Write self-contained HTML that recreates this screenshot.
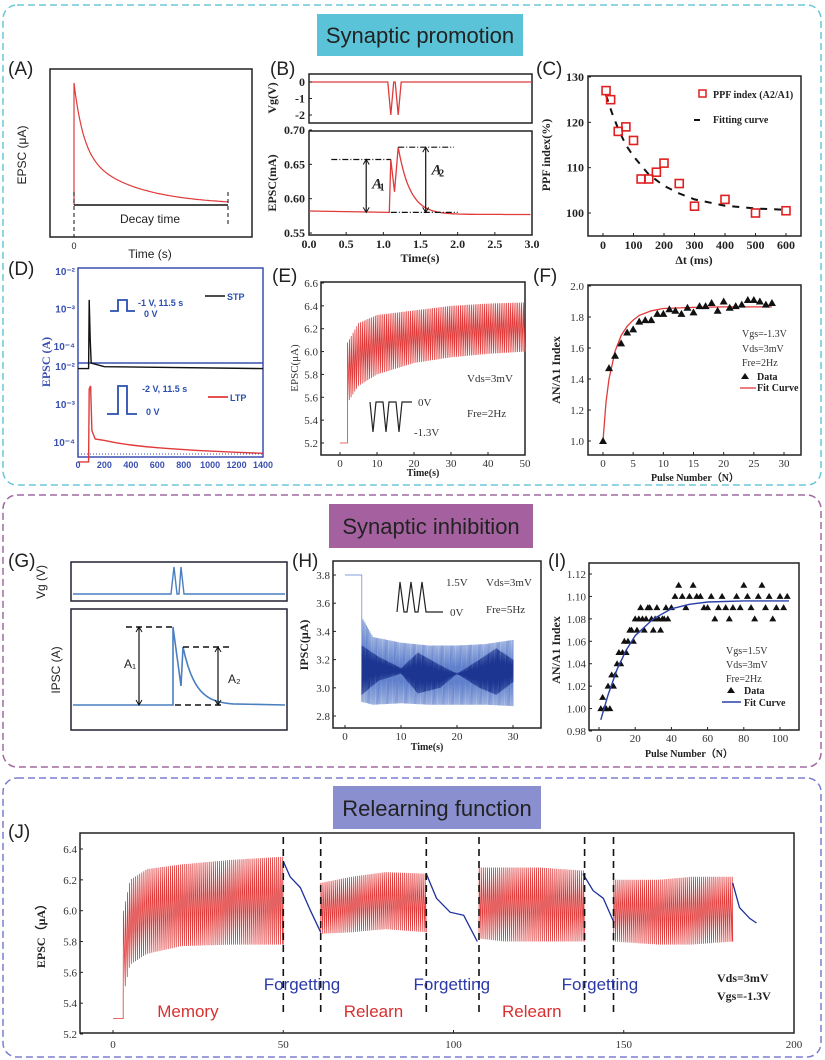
<!DOCTYPE html>
<html><head><meta charset="utf-8"><style>
html,body{margin:0;padding:0;background:#fff;}
svg{display:block;font-family:"Liberation Sans",sans-serif;}
.tk{font-family:"Liberation Serif",serif;font-size:11px;fill:#333;}
.tkb{font-family:"Liberation Serif",serif;font-size:12px;font-weight:bold;fill:#222;}
.sn{font-family:"Liberation Sans",sans-serif;font-size:12px;fill:#222;}
.pl{font-size:19px;fill:#222;}
.ttl{font-size:22px;fill:#222;}
</style></head><body>
<svg id="fig" width="825" height="1060" viewBox="0 0 825 1060">
<rect x="3" y="5" width="818" height="480" rx="14" fill="none" stroke="#6cc7dc" stroke-width="1.5" stroke-dasharray="7,4"/>
<rect x="3" y="495" width="818" height="272" rx="14" fill="none" stroke="#a06aa0" stroke-width="1.5" stroke-dasharray="7,4"/>
<rect x="3" y="778" width="818" height="279" rx="14" fill="none" stroke="#7b7fcf" stroke-width="1.5" stroke-dasharray="7,4"/>
<rect x="317" y="14" width="206" height="42" fill="#5bc3d8"/>
<text x="420" y="43" text-anchor="middle" class="ttl">Synaptic promotion</text>
<rect x="329" y="504" width="204" height="44" fill="#a5619f"/>
<text x="431" y="534" text-anchor="middle" class="ttl">Synaptic inhibition</text>
<rect x="333" y="786" width="208" height="43" fill="#8a8fd0"/>
<text x="437" y="816" text-anchor="middle" class="ttl">Relearning function</text>
<text x="8" y="75" class="pl">(A)</text>
<text x="270" y="75" class="pl">(B)</text>
<text x="536" y="75" class="pl">(C)</text>
<text x="8" y="275" class="pl">(D)</text>
<text x="272" y="282" class="pl">(E)</text>
<text x="533" y="282" class="pl">(F)</text>
<text x="8" y="567" class="pl">(G)</text>
<text x="292" y="567" class="pl">(H)</text>
<text x="548" y="567" class="pl">(I)</text>
<text x="8" y="838" class="pl">(J)</text>
</svg>
<script>
// ---- data ----
const cDt=[10,25,50,75,100,125,150,175,200,250,300,400,500,600];
const cPPF=[127,125,118,119,116,107.5,107.5,109,111,106.5,101.5,103,100,100.5];
const cFitX=[10,30,50,75,100,150,200,250,300,400,500,600];
const cFitY=[126,122,118.5,115,112.5,108.5,106,104.3,103,101.6,101,100.7];
const fN=[0,1,2,3,4,5,6,7,8,9,10,11,12,13,14,15,16,17,18,19,20,21,22,23,24,25,26,27,28];
const fVal=[1.0,1.47,1.55,1.63,1.70,1.72,1.77,1.78,1.78,1.82,1.82,1.85,1.84,1.82,1.86,1.83,1.87,1.87,1.89,1.84,1.90,1.86,1.87,1.88,1.91,1.91,1.90,1.88,1.89];
const fFitX=[0,0.5,1,2,3,4,5,6,8,10,15,20,28];
const fFitY=[1.0,1.25,1.4,1.58,1.68,1.74,1.78,1.81,1.84,1.855,1.862,1.865,1.865];
const iN=[1,2,3,4,5,6,7,8,9,10,11,12,13,14,15,16,17,18,19,20,21,22,23,24,25,26,27,28,29,30,31,32,33,34,35,36,37,38,40,42,44,46,48,50,52,54,56,58,60,62,64,66,68,70,72,74,76,78,80,82,84,86,88,90,92,94,96,98,100,102,104];
const iVal=[1.00,1.01,1.00,1.00,1.02,1.00,1.03,1.02,1.03,1.04,1.05,1.04,1.05,1.06,1.05,1.06,1.07,1.07,1.06,1.08,1.07,1.08,1.09,1.08,1.07,1.08,1.09,1.09,1.08,1.07,1.08,1.09,1.08,1.07,1.08,1.08,1.09,1.08,1.09,1.10,1.11,1.10,1.09,1.10,1.11,1.10,1.10,1.09,1.09,1.10,1.08,1.09,1.10,1.09,1.08,1.09,1.10,1.09,1.11,1.10,1.09,1.08,1.10,1.11,1.09,1.10,1.08,1.09,1.10,1.09,1.10];
const iFitX=[1,5,10,15,20,30,40,50,60,80,105];
const iFitY=[0.99,1.012,1.035,1.052,1.065,1.08,1.089,1.093,1.095,1.096,1.096];
const eT=[2,5,10,20,30,40,50];
const eUp=[6.08,6.25,6.32,6.36,6.40,6.42,6.43];
const eLo=[5.55,5.70,5.80,5.90,5.95,5.98,6.00];
const hT=[3,5,10,15,20,25,30];
const hUp=[3.5,3.36,3.32,3.30,3.30,3.31,3.34];
const hLo=[2.90,2.88,2.89,2.88,2.88,2.88,2.87];
const hDT=[3,6,10,13,17,20,24,27,30];
const hDUp=[3.30,3.22,3.14,3.25,3.16,3.10,3.20,3.28,3.20];
const hDLo=[2.95,3.05,3.10,2.96,3.00,3.10,3.00,2.95,3.04];
const jMemT=[3,5,10,20,35,50];
const jMemUp=[6.0,6.20,6.27,6.30,6.33,6.35];
const jMemLo=[5.45,5.65,5.72,5.77,5.78,5.78];
const jR1T=[61,70,80,92]; const jR1Up=[6.18,6.22,6.25,6.24]; const jR1Lo=[5.85,5.86,5.88,5.86];
const jR2T=[107,115,125,138]; const jR2Up=[6.28,6.28,6.28,6.26]; const jR2Lo=[5.82,5.80,5.80,5.80];
const jR3T=[147,160,170,182]; const jR3Up=[6.20,6.20,6.22,6.22]; const jR3Lo=[5.80,5.78,5.78,5.80];
const jF1T=[50,52,55,58,61]; const jF1V=[6.32,6.22,6.15,6.00,5.86];
const jF2T=[92,95,99,103,107]; const jF2V=[6.24,6.08,5.99,5.97,5.80];
const jF3T=[138,141,144,147]; const jF3V=[6.24,6.13,6.08,5.93];
const jF4T=[182,184,187,189]; const jF4V=[6.18,6.02,5.95,5.92];
const jDash=[50,61,92,107.5,138.5,147];

// ---- helpers ----
const NS='http://www.w3.org/2000/svg';
const svg=document.getElementById('fig');
function mk(tag,attrs,name,parent){const el=document.createElementNS(NS,tag);for(const k in attrs)el.setAttribute(k,attrs[k]);


(parent||svg).appendChild(el);return el;}
function tx(x,y,s,name,cls,extra){const ex=Object.assign({},extra||{});const st={};['font-size','fill','font-family','font-style'].forEach(k=>{if(ex[k]!==undefined){st[k]=ex[k];delete ex[k];}});
const el=mk('text',Object.assign({x:x,y:y,class:cls||'tk'},ex),name);
for(const k in st){el.style.setProperty(k,k==='font-size'&&/^\d+$/.test(st[k])?st[k]+'px':st[k]);}
el.textContent=s;return el;}
function sc(d0,d1,r0,r1){return v=>r0+(v-d0)*(r1-r0)/(d1-d0);}
function interp(ts,vs,t){if(t<=ts[0])return vs[0];for(let i=1;i<ts.length;i++){if(t<=ts[i]){const f=(t-ts[i-1])/(ts[i]-ts[i-1]);return vs[i-1]+f*(vs[i]-vs[i-1]);}}return vs[vs.length-1];}
function box(x0,y0,x1,y1,name,col,sw){return mk('rect',{x:x0,y:y0,width:x1-x0,height:y1-y0,fill:'none',stroke:col||'#222',"stroke-width":sw||1.5},name);}
function line(pts,name,col,sw,dash){const d=pts.map((p,i)=>(i?'L':'M')+p[0].toFixed(1)+','+p[1].toFixed(1)).join('');const a={d:d,fill:'none',stroke:col,"stroke-width":sw||1};if(dash)a['stroke-dasharray']=dash;return mk('path',a,name);}
function xticks(vals,labels,X,yAx,ly,name,cls){vals.forEach((v,i)=>{mk('line',{x1:X(v),x2:X(v),y1:yAx,y2:yAx-3,stroke:'#222'},name+'-tick');tx(X(v),ly,labels[i],name+'-label',cls||'tk',{"text-anchor":"middle"});});}
function yticks(vals,labels,Y,xAx,lx,name,cls){vals.forEach((v,i)=>{mk('line',{x1:xAx,x2:xAx+3,y1:Y(v),y2:Y(v),stroke:'#222'},name+'-tick');tx(lx,Y(v)+4,labels[i],name+'-label',cls||'tk',{"text-anchor":"end"});});}
function spikes(t0,t1,per,ts,up,lo,X,Y){const p=[];for(let t=t0;t<t1;t+=per){p.push([X(t),Y(interp(ts,lo,t))]);p.push([X(t+per*0.08),Y(interp(ts,up,t))]);}p.push([X(t1),Y(interp(ts,lo,t1))]);return p;}
function ytitle(x,y,s,name,cls,col,fs){const ex={"text-anchor":"middle",transform:`rotate(-90 ${x} ${y})`};if(col)ex.fill=col;if(fs)ex['font-size']=fs;return tx(x,y,s,name,cls,ex);}
function arrowV(x,y0,y1,name){line([[x,y0],[x,y1]],name,'#111',1.2);mk('path',{d:`M${x-3},${y0+5}L${x},${y0}L${x+3},${y0+5}M${x-3},${y1-5}L${x},${y1}L${x+3},${y1-5}`,fill:'none',stroke:'#111'},name+'-heads');}

// ---- Panel A ----
box(50,69,252,237,'panel-a-axes');
{const X=sc(0,1,74,228);const pts=[[74,205],[74,83]];for(let t=0;t<=1.001;t+=0.01){pts.push([X(t),205-122*(0.55*Math.exp(-t/0.06)+0.45*Math.exp(-t/0.35))]);}
line(pts,'panel-a-epsc-decay','#e03a3a',1.2);}
line([[74,205],[228,205]],'decay-time-bar','#111',1.5);
line([[74,192],[74,237]],'decay-start-dash','#111',1,'4,3');
line([[228,192],[228,225]],'decay-end-dash','#111',1,'4,3');
tx(150,223,'Decay time','decay-time-label','sn',{"text-anchor":"middle"});
tx(74,249,'0','panel-a-x-zero','sn',{"text-anchor":"middle","font-size":"9"});
tx(150,258,'Time (s)','panel-a-x-title','sn',{"text-anchor":"middle"});
ytitle(26,155,'EPSC (μA)','panel-a-y-title','sn');

// ---- Panel B ----
{const X=sc(0,3,309,532);
box(309,74,532,123,'panel-b-top-axes');
const YV=sc(0,-2,82,115);
const v=[[X(0),YV(0)],[X(1.06),YV(0)],[X(1.1),YV(-2)],[X(1.14),YV(0)],[X(1.16),YV(0)],[X(1.2),YV(-2)],[X(1.24),YV(0)],[X(3),YV(0)]];
line(v,'panel-b-vg-trace','#e03a3a',1.3);
yticks([0,-1,-2],['0','-1','-2'],YV,309,305,'panel-b-vg-axis','tkb');
ytitle(276,98,'Vg(V)','panel-b-vg-title','tkb');
box(309,131,532,235,'panel-b-bottom-axes');
const Y=sc(0.55,0.70,233,130);
const tr=[[X(0),Y(0.582)],[X(1.08),Y(0.580)],[X(1.1),Y(0.657)],[X(1.15),Y(0.61)],[X(1.2),Y(0.675)]];
for(let t=1.2;t<=3;t+=0.02)tr.push([X(t),Y(0.577+0.098*Math.exp(-(t-1.2)/0.16))]);
line(tr,'panel-b-epsc-trace','#e03a3a',1.3);
line([[X(0.3),Y(0.657)],[X(1.1),Y(0.657)]],'a1-top-guide','#111',1.2,'6,2,1,2');
line([[X(1.2),Y(0.675)],[X(1.95),Y(0.675)]],'a2-top-guide','#111',1.2,'6,2,1,2');
line([[X(1.1),Y(0.58)],[X(2.0),Y(0.58)]],'baseline-guide','#111',1.2,'6,2,1,2');
arrowV(X(0.77),Y(0.657),Y(0.58),'a1-arrow');arrowV(X(1.57),Y(0.675),Y(0.58),'a2-arrow');
tx(X(0.85),Y(0.615),'A','a1-label','tkb',{"font-style":"italic","font-size":"15"});tx(X(0.95),Y(0.612),'1','a1-sub','tkb',{"font-size":"10"});
tx(X(1.65),Y(0.635),'A','a2-label','tkb',{"font-style":"italic","font-size":"15"});tx(X(1.75),Y(0.632),'2','a2-sub','tkb',{"font-size":"10"});
yticks([0.55,0.60,0.65,0.70],['0.55','0.60','0.65','0.70'],Y,309,305,'panel-b-y-axis','tkb');
xticks([0,0.5,1,1.5,2,2.5,3],['0.0','0.5','1.0','1.5','2.0','2.5','3.0'],X,235,248,'panel-b-x-axis','tkb');
tx(420,262,'Time(s)','panel-b-x-title','tkb',{"text-anchor":"middle"});
ytitle(276,183,'EPSC(mA)','panel-b-y-title','tkb');}

// ---- Panel C ----
{const X=sc(0,600,603,786),Y=sc(100,130,213,77);
box(588,76,801,236,'panel-c-axes');
line(cFitX.map((x,i)=>[X(x),Y(cFitY[i])]),'ppf-fitting-curve','#111',2,'7,7');
cDt.forEach((d,i)=>{mk('rect',{x:X(d)-4,y:Y(cPPF[i])-4,width:8,height:8,fill:'none',stroke:'#e02020',"stroke-width":1.6},'ppf-point');});
yticks([100,110,120,130],['100','110','120','130'],Y,588,584,'panel-c-y-axis','tkb');
xticks([0,100,200,300,400,500,600],['0','100','200','300','400','500','600'],X,236,249,'panel-c-x-axis','tkb');
tx(694,264,'Δt (ms)','panel-c-x-title','tkb',{"text-anchor":"middle"});
ytitle(550,155,'PPF index(%)','panel-c-y-title','tkb');
mk('rect',{x:699,y:90,width:7,height:7,fill:'none',stroke:'#e02020',"stroke-width":1.5},'legend-ppf-marker');
tx(713,98,'PPF index (A2/A1)','legend-ppf-label','tkb',{"font-size":"10"});
line([[694,120],[700,120]],'legend-fit-marker','#111',2);
tx(713,123,'Fitting curve','legend-fit-label','tkb',{"font-size":"10"});}

// ---- Panel D ----
{const X=sc(0,1400,78,263);
box(78,268,263,457,'panel-d-axes','#3a4fb0',1.5);
line([[78,363],[263,363]],'panel-d-divider','#3a4fb0',1.5);
const Yt=v=>271+(-2-Math.log10(v))*37.5, Yb=v=>366+(-2-Math.log10(v))*38;
const stp=[[X(0),Yt(2.5e-5)],[X(80),Yt(2.5e-5)],[X(85),Yt(1.7e-3)],[X(92),Yt(1.5e-4)],[X(100),Yt(3.5e-5)],[X(200),Yt(2.8e-5)],[X(1400),Yt(2.5e-5)]];
line(stp,'stp-trace','#111',1.4);
const ltp=[[X(0),Yb(3e-5)],[X(80),Yb(3e-5)],[X(85),Yb(2.5e-3)],[X(95),Yb(3e-3)],[X(105),Yb(2e-4)],[X(130),Yb(1.2e-4)]];
for(let t=200;t<=1400;t+=100)ltp.push([X(t),Yb(1.1e-4*Math.pow(t/200,-0.4))]);
line(ltp,'ltp-trace','#e03a3a',1.4);
line([[78,454],[263,454]],'ltp-baseline-dots','#3a4fb0',1,'1,2');
const dl={"text-anchor":"end","fill":"#3a4fb0","font-family":"Liberation Sans","font-size":"10"};
[[-2,'10⁻²'],[-3,'10⁻³'],[-4,'10⁻⁴']].forEach(a=>{tx(75,Yt(Math.pow(10,a[0]))+4,a[1],'panel-d-top-y-label','tkb',dl);});
[[-3,'10⁻³'],[-4,'10⁻⁴']].forEach(a=>{tx(75,Yb(Math.pow(10,a[0]))+4,a[1],'panel-d-bottom-y-label','tkb',dl);});
tx(75,370,'10⁻²','panel-d-mid-y-label','tkb',dl);
[0,200,400,600,800,1000,1200,1400].forEach(v=>tx(X(v),468,String(v),'panel-d-x-label','tkb',{"text-anchor":"middle","fill":"#3a4fb0","font-family":"Liberation Sans","font-size":"9"}));
ytitle(50,362,'EPSC (A)','panel-d-y-title','tkb','#3a4fb0');
const bl={"fill":"#2a4fb0","font-family":"Liberation Sans","font-size":"9"};
line([[110,311],[118,311],[118,300],[127,300],[127,311],[135,311]],'stp-pulse-icon','#2a4fb0',1.8);
tx(138,306,'-1 V, 11.5 s','stp-pulse-label','tkb',bl);
tx(144,317,'0 V','stp-pulse-0v','tkb',bl);
line([[205,296],[225,296]],'legend-stp-line','#111',1.5);tx(227,300,'STP','legend-stp-label','tkb',bl);
line([[107,414],[118,414],[118,386],[127,386],[127,414],[137,414]],'ltp-pulse-icon','#2a4fb0',1.8);
tx(142,392,'-2 V, 11.5 s','ltp-pulse-label','tkb',bl);
tx(146,415,'0 V','ltp-pulse-0v','tkb',bl);
line([[208,397],[228,397]],'legend-ltp-line','#e03a3a',1.8);tx(230,401,'LTP','legend-ltp-label','tkb',bl);}

// ---- Panel E ----
{const X=sc(0,50,340,525),Y=sc(5.2,6.6,443,283);
box(321,282,525,455,'panel-e-axes');
const p=[[X(0),Y(5.2)],[X(2),Y(5.2)],[X(2),Y(5.55)]].concat(spikes(2,50,0.5,eT,eUp,eLo,X,Y));
line(p,'panel-e-epsc-trace','#e03a3a',0.8);
yticks([5.2,5.4,5.6,5.8,6.0,6.2,6.4,6.6],['5.2','5.4','5.6','5.8','6.0','6.2','6.4','6.6'],Y,321,318,'panel-e-y-axis');
xticks([0,10,20,30,40,50],['0','10','20','30','40','50'],X,455,467,'panel-e-x-axis');
tx(423,476,'Time(s)','panel-e-x-title','tkb',{"text-anchor":"middle","font-size":"10"});
ytitle(298,368,'EPSC(μA)','panel-e-y-title','tk');
line([[370,402],[373,432],[376,402],[383,402],[386,432],[389,402],[396,402],[399,432],[402,402],[412,402]],'panel-e-pulse-icon','#222',1.2);
tx(418,406,'0V','pulse-0v-label','tk');tx(414,436,'-1.3V','pulse-neg-label','tk');
tx(467,382,'Vds=3mV','panel-e-vds-label','tk');tx(467,417,'Fre=2Hz','panel-e-fre-label','tk');}

// ---- Panel F ----
{const X=sc(0,30,603,784),Y=sc(1.0,2.0,441,286);
box(588,285,801,455,'panel-f-axes');
line(fFitX.map((x,i)=>[X(x),Y(fFitY[i])]),'panel-f-fit-curve','#e03a3a',1.3);
fN.forEach((n,i)=>{const x=X(n),y=Y(fVal[i]);mk('path',{d:`M${x},${y-4}L${x+4},${y+3}L${x-4},${y+3}Z`,fill:'#111'},'panel-f-data-point');});
yticks([1.0,1.2,1.4,1.6,1.8,2.0],['1.0','1.2','1.4','1.6','1.8','2.0'],Y,588,584,'panel-f-y-axis');
xticks([0,5,10,15,20,25,30],['0','5','10','15','20','25','30'],X,455,467,'panel-f-x-axis');
tx(695,481,'Pulse Number（N）','panel-f-x-title','tkb',{"text-anchor":"middle","font-size":"10"});
ytitle(560,370,'AN/A1 Index','panel-f-y-title','tkb');
tx(742,337,'Vgs=-1.3V','panel-f-vgs','tk',{"font-size":"10"});tx(742,352,'Vds=3mV','panel-f-vds','tk',{"font-size":"10"});tx(742,366,'Fre=2Hz','panel-f-fre','tk',{"font-size":"10"});
mk('path',{d:'M745,373L749,379L741,379Z',fill:'#111'},'legend-data-marker');tx(757,380,'Data','legend-data-label','tkb',{"font-size":"10"});
line([[740,388],[756,388]],'legend-fit-line','#e03a3a',1.3);tx(757,391,'Fit Curve','legend-fit-label','tkb',{"font-size":"10"});}

// ---- Panel G ----
box(71,562,287,601,'panel-g-top-axes','#223',1.5);
line([[73,594],[171,594],[174,567],[177,594],[179,594],[181,567],[184,594],[285,594]],'panel-g-vg-trace','#4a7fc0',1.4);
ytitle(45,582,'Vg (V)','panel-g-vg-title','sn');
box(71,609,287,730,'panel-g-bottom-axes','#223',1.5);
{const g=[[73,705],[173,705],[173,627],[181,686],[183,647]];for(let i=0;i<=20;i++){const x=183+i*2.5;g.push([x,705-58*Math.exp(-i/5)]);}g.push([285,705]);line(g,'panel-g-ipsc-trace','#4a7fc0',1.6);}
line([[126,627],[176,627]],'g-a1-top-guide','#111',1.5,'6,4');
line([[183,647],[230,647]],'g-a2-top-guide','#111',1.5,'6,4');
line([[175,705],[222,705]],'g-baseline-guide','#111',1.5,'6,4');
arrowV(139,627,705,'g-a1-arrow');arrowV(218,647,705,'g-a2-arrow');
tx(124,668,'A₁','g-a1-label','sn');tx(228,683,'A₂','g-a2-label','sn');
ytitle(60,670,'IPSC (A)','panel-g-y-title','sn');

// ---- Panel H ----
{const X=sc(0,30,345,513),Y=sc(2.8,3.8,716,575);
box(333,561,541,728,'panel-h-axes');
line([[X(0),Y(3.8)],[X(3),Y(3.8)],[X(3),Y(3.5)]].concat(spikes(3,30,0.2,hT,hUp,hLo,X,Y)),'panel-h-ipsc-trace','#6080cc',0.7);
line(spikes(3,30,0.2,hDT,hDUp,hDLo,X,Y),'panel-h-ipsc-envelope','#1c3590',0.8);
yticks([2.8,3.0,3.2,3.4,3.6,3.8],['2.8','3.0','3.2','3.4','3.6','3.8'],Y,333,330,'panel-h-y-axis');
xticks([0,10,20,30],['0','10','20','30'],X,728,740,'panel-h-x-axis');
tx(427,750,'Time(s)','panel-h-x-title','tkb',{"text-anchor":"middle","font-size":"10"});
ytitle(308,645,'IPSC(μA)','panel-h-y-title','tkb');
line([[397,612],[400,582],[404,612],[407,612],[411,582],[415,612],[418,612],[422,582],[426,612],[443,612]],'panel-h-pulse-icon','#222',1.2);
tx(446,586,'1.5V','h-pulse-high','tk');tx(450,616,'0V','h-pulse-0v','tk');
tx(486,586,'Vds=3mV','panel-h-vds','tk');tx(486,613,'Fre=5Hz','panel-h-fre','tk');}

// ---- Panel I ----
{const X=sc(0,100,599,780),Y=sc(0.98,1.12,731,574);
box(589,563,799,730,'panel-i-axes');
iN.forEach((n,i)=>{if(i>=iVal.length)return;const x=X(n),y=Y(iVal[i]);mk('path',{d:`M${x},${y-3.5}L${x+3.5},${y+2.5}L${x-3.5},${y+2.5}Z`,fill:'#111'},'panel-i-data-point');});
line(iFitX.map((x,i)=>[X(x),Y(iFitY[i])]),'panel-i-fit-curve','#2a40a8',1.4);
yticks([0.98,1.00,1.02,1.04,1.06,1.08,1.10,1.12],['0.98','1.00','1.02','1.04','1.06','1.08','1.10','1.12'],Y,589,586,'panel-i-y-axis');
xticks([0,20,40,60,80,100],['0','20','40','60','80','100'],X,730,742,'panel-i-x-axis');
tx(689,757,'Pulse Number（N）','panel-i-x-title','tkb',{"text-anchor":"middle","font-size":"10"});
ytitle(560,650,'AN/A1 Index','panel-i-y-title','tkb');
tx(726,654,'Vgs=1.5V','panel-i-vgs','tk',{"font-size":"10"});tx(726,668,'Vds=3mV','panel-i-vds','tk',{"font-size":"10"});tx(726,682,'Fre=2Hz','panel-i-fre','tk',{"font-size":"10"});
mk('path',{d:'M731,687L735,693L727,693Z',fill:'#111'},'legend-i-data-marker');tx(744,694,'Data','legend-i-data-label','tkb',{"font-size":"10"});
line([[722,702],[741,702]],'legend-i-fit-line','#2a40a8',1.4);tx(744,706,'Fit Curve','legend-i-fit-label','tkb',{"font-size":"10"});}

// ---- Panel J ----
{const X=sc(0,200,113,794),Y=sc(5.2,6.4,1034,849);
box(80,833,794,1033,'panel-j-axes');
line([[X(0),Y(5.3)],[X(3),Y(5.3)],[X(3),Y(5.45)]].concat(spikes(3,50,0.6,jMemT,jMemUp,jMemLo,X,Y)),'j-memory-trace','#e03a3a',0.8);
line(spikes(61,92,0.6,jR1T,jR1Up,jR1Lo,X,Y),'j-relearn1-trace','#e03a3a',0.8);
line(spikes(107.5,138.5,0.6,jR2T,jR2Up,jR2Lo,X,Y),'j-relearn2-trace','#e03a3a',0.8);
line(spikes(147,182,0.6,jR3T,jR3Up,jR3Lo,X,Y),'j-relearn3-trace','#e03a3a',0.8);
[[jF1T,jF1V],[jF2T,jF2V],[jF3T,jF3V],[jF4T,jF4V]].forEach(f=>line(f[0].map((t,i)=>[X(t),Y(f[1][i])]),'j-forgetting-trace','#1c2f9a',1.3));
jDash.forEach(d=>line([[X(d),837],[X(d),1017]],'j-phase-divider','#111',1.6,'7,5'));
yticks([5.2,5.4,5.6,5.8,6.0,6.2,6.4],['5.2','5.4','5.6','5.8','6.0','6.2','6.4'],Y,80,77,'panel-j-y-axis');
xticks([0,50,100,150,200],['0','50','100','150','200'],X,1033,1048,'panel-j-x-axis');
ytitle(45,933,'EPSC（μA）','panel-j-y-title','tkb');
const fl={"text-anchor":"middle","font-size":"17","fill":"#2b3aa8"};
[[X(55.5),'f1'],[X(99.5),'f2'],[X(143),'f3']].forEach(a=>tx(a[0],990,'Forgetting','j-forgetting-label-'+a[1],'sn',fl));
const rl={"text-anchor":"middle","font-size":"17","fill":"#d83030"};
tx(X(22),1017,'Memory','j-memory-label','sn',rl);
tx(X(76.5),1017,'Relearn','j-relearn-label-1','sn',rl);
tx(X(123),1017,'Relearn','j-relearn-label-2','sn',rl);
tx(717,982,'Vds=3mV','panel-j-vds','tkb');tx(717,1000,'Vgs=-1.3V','panel-j-vgs','tkb');}
</script>
</body></html>
